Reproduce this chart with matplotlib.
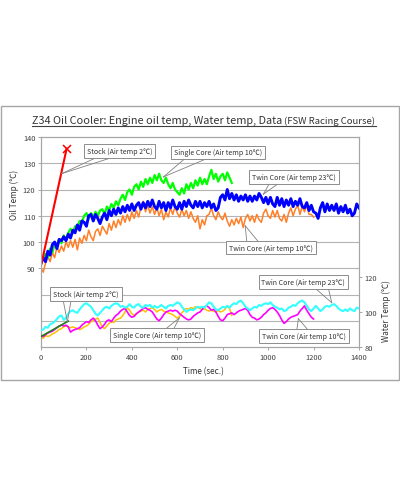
import numpy as np
import matplotlib
matplotlib.use('Agg')
import matplotlib.pyplot as plt
from matplotlib.lines import Line2D
from matplotlib.patches import Rectangle

FONT = ['Noto Sans CJK JP', 'DejaVu Sans']
plt.rcParams['font.family'] = FONT

# ---------------- data ----------------
STEP = 10  # seconds between logged samples

oil_twin23 = [
    92.0, 94.0, 92.5, 96.5, 95.0, 99.0, 100.0, 97.5, 101.0, 100.5,
    102.0, 100.5, 103.0, 101.5, 104.5, 103.5, 106.5, 104.5, 108.0, 107.5,
    106.0, 110.0, 110.5, 108.0, 110.5, 109.0, 107.0, 109.5, 111.0, 108.5,
    112.0, 110.0, 112.5, 110.5, 113.0, 111.0, 113.5, 111.5, 114.0, 112.0,
    114.5, 112.0, 114.0, 115.0, 112.5, 115.0, 113.0, 115.5, 113.5, 116.0,
    113.5, 112.5, 115.5, 113.0, 115.0, 112.0, 115.0, 113.0, 116.0, 113.5,
    112.5, 115.0, 112.5, 115.5, 113.5, 116.0, 114.0, 113.0, 115.5, 113.5,
    115.5, 113.0, 115.0, 113.5, 115.5, 113.0, 114.5, 112.0, 113.0, 117.0,
    118.0, 116.0, 120.0, 116.5, 118.5, 116.0, 118.0, 115.5, 117.5, 116.0,
    118.0, 115.5, 117.5, 115.5, 117.5, 116.0, 118.5, 117.0, 115.0, 117.0,
    114.5, 117.0, 114.5, 113.5, 117.0, 114.0, 116.5, 113.5, 116.0, 114.0,
    116.5, 113.5, 115.5, 114.0, 116.5, 113.5, 113.0, 115.0, 112.0, 114.0,
    111.5, 111.0, 109.0, 113.0, 115.0, 111.5, 114.5, 112.0, 114.0, 112.0,
    114.5, 111.0, 113.5, 111.5, 114.0, 111.0, 112.5, 110.0, 111.0, 114.5,
    113.0]

oil_single10 = [
    92.0, 94.0, 95.5, 94.0, 97.5, 96.0, 99.0, 98.5, 101.0, 99.5,
    102.5, 101.0, 103.5, 105.0, 103.5, 106.0, 105.5, 108.0, 107.5, 110.0,
    111.0, 109.0, 111.0, 109.5, 111.5, 110.0, 112.0, 112.5, 110.5, 113.5,
    112.0, 114.5, 113.0, 115.5, 114.0, 116.5, 118.0, 116.0, 119.0, 120.0,
    118.0, 121.0, 122.0, 120.0, 123.0, 121.0, 124.0, 122.0, 124.5, 122.5,
    125.5, 123.5, 126.0, 123.5, 122.5, 124.5, 122.0, 120.5, 122.5, 120.0,
    119.0, 118.0, 120.5, 118.5, 122.0, 120.0, 122.5, 120.5, 123.5, 121.5,
    124.5, 122.0, 124.0, 122.0, 125.0, 127.5, 124.0, 126.0, 123.0, 125.0,
    126.0, 123.5, 126.5, 124.5, 122.5]

oil_twin10 = [
    90.0, 88.5, 92.0, 94.5, 92.5, 96.0, 94.0, 98.0, 96.0, 98.5,
    96.5, 100.0, 98.0, 100.5, 98.0, 101.0, 97.0, 101.5, 99.5, 102.5,
    100.5, 104.5, 102.0, 100.5, 104.0, 105.0, 102.5, 106.0, 104.5, 103.0,
    107.0, 104.5, 108.0, 105.5, 108.5, 106.5, 110.0, 107.5, 110.5, 108.0,
    111.5, 109.0, 112.0, 109.5, 113.5, 115.5, 111.5, 114.0, 111.0, 113.5,
    110.5, 113.0, 110.0, 112.5, 108.5, 111.5, 109.5, 113.0, 110.5, 113.5,
    111.0, 109.5, 112.5, 110.0, 112.0, 109.0, 111.5, 109.0, 107.5, 110.0,
    105.0, 108.5, 106.5, 110.0, 110.5, 113.0, 110.0, 108.5, 111.5, 109.5,
    108.5, 111.0, 108.0, 106.0, 108.5, 106.5, 109.0, 107.0, 109.5, 105.5,
    109.0, 110.5, 108.0, 110.0, 107.5, 110.5, 108.5, 107.5, 111.0, 112.5,
    110.0, 109.0, 112.0, 109.5, 112.0, 109.0, 108.0, 110.5, 107.5, 111.0,
    113.0, 110.0, 112.5, 114.0, 110.5, 113.5, 111.5, 114.0, 110.5, 110.5,
    109.5]

water_twin23 = [
    89.5, 90.0, 91.5, 91.0, 93.0, 93.5, 94.5, 96.0, 97.5, 98.0,
    95.5, 96.5, 99.0, 100.5, 101.0, 100.0, 99.5, 101.5, 103.0, 104.5,
    105.0, 104.0, 103.0, 101.0, 99.0, 98.0, 99.5, 101.0, 102.5, 103.0,
    102.0, 103.5, 104.5, 105.0, 104.5, 103.0, 103.5, 102.5, 103.0, 104.5,
    103.0, 102.5, 104.0, 104.5, 103.0, 102.5, 104.0, 103.5, 104.0, 102.5,
    103.5, 102.5, 103.0, 104.0, 103.0, 102.0, 103.5, 104.0, 103.5, 104.5,
    105.5, 105.0, 103.0, 101.5, 100.0, 101.0, 101.5, 101.0, 102.0, 103.0,
    102.5, 103.0, 102.5, 104.0, 105.5, 105.0, 103.0, 101.5, 101.0, 102.0,
    103.0, 102.5, 103.5, 102.5, 104.0, 105.0, 104.5, 106.0, 106.5, 105.0,
    103.0, 102.0, 101.0, 102.0, 103.0, 102.5, 104.0, 103.5, 104.5, 105.0,
    104.5, 105.5, 104.0, 103.0, 102.5, 101.5, 102.0, 100.5, 101.0, 102.5,
    103.0, 104.0, 103.5, 105.0, 106.0, 106.5, 105.5, 103.5, 101.5, 100.5,
    102.0, 103.5, 102.0, 100.5, 101.5, 103.0, 103.5, 103.0, 104.0, 104.5,
    103.5, 102.0, 101.0, 100.5, 101.5, 100.5, 102.0, 101.0, 100.5, 102.5,
    102.0]

water_single10 = [
    85.5, 85.0, 86.5, 86.0, 86.5, 87.5, 88.0, 89.0, 90.0, 90.5,
    91.5, 92.0, 91.5, 91.0, 91.5, 91.0, 90.5, 90.0, 90.5, 91.5,
    92.0, 93.0, 94.5, 95.0, 96.0, 96.5, 94.0, 91.5, 90.5, 92.0,
    93.5, 94.5, 94.0, 95.5, 96.0, 96.5, 98.0, 100.0, 102.5, 101.0,
    99.0, 98.0, 99.0, 100.0, 100.5, 101.0, 100.0, 101.5, 102.0, 102.5,
    101.5, 100.0, 101.0, 101.5, 100.5, 100.0, 99.5, 99.0, 98.5, 97.5,
    96.5, 97.5, 99.5, 101.0, 102.0, 101.5, 102.5, 102.0, 103.0, 102.5,
    102.0, 101.5, 102.0, 101.0, 100.5, 101.0, 100.5, 100.0, 101.0, 100.0,
    100.5, 101.5, 103.5, 102.0, 98.0]

water_twin10 = [
    86.5, 86.0, 87.0, 88.0, 88.5, 89.0, 90.0, 91.0, 92.0, 92.5,
    92.0, 92.5, 91.5, 88.5, 89.5, 90.0, 90.5, 91.0, 92.5, 93.5,
    94.5, 94.0, 95.5, 96.5, 95.0, 92.5, 90.5, 91.5, 93.0, 95.0,
    95.5, 94.5, 96.5, 98.0, 99.0, 100.5, 101.5, 102.0, 100.0, 98.0,
    97.0, 97.5, 99.0, 100.0, 101.0, 102.0, 102.5, 101.5, 101.0, 100.0,
    98.0, 96.0, 95.0, 96.5, 98.5, 100.0, 100.5, 101.0, 100.5, 101.0,
    100.5, 99.0, 98.0, 97.0, 96.0, 95.5, 96.0, 97.5, 98.5, 99.5,
    100.0, 101.5, 103.0, 103.5, 102.5, 101.0, 101.5, 100.0, 97.5, 95.5,
    95.0, 96.5, 98.5, 99.0, 99.5, 98.5, 99.5, 100.5, 101.0, 101.5,
    102.0, 101.0, 98.5, 97.0, 96.5, 95.5, 96.0, 97.0, 98.5, 99.5,
    101.0, 102.0, 102.5, 101.5, 100.0, 98.0, 95.5, 93.5, 94.5, 96.0,
    97.0, 97.5, 98.0, 98.5, 100.5, 102.0, 103.5, 101.0, 99.0, 97.0,
    96.0]

stock_time = [0, 113]
oil_stock = [91.0, 135.6]
water_stock_time = [0, 120]
water_stock = [86.0, 94.8]

x_ticks = [0, 200, 400, 600, 800, 1000, 1200, 1400]
oil_ticks = [90, 100, 110, 120, 130, 140]
oil_grid = [70, 80, 90, 100, 110, 120, 130]
water_ticks = [80, 100, 120]

title_main = "Z34 Oil Cooler: Engine oil temp, Water temp, Data"
title_sub = "(FSW Racing Course)"
x_label = "Time (sec.)"
oil_label = "Oil Temp (℃)"
water_label = "Water Temp (℃)"

lbl_stock = "Stock (Air temp 2℃)"
lbl_single = "Single Core (Air temp 10℃)"
lbl_twin23 = "Twin Core (Air temp 23℃)"
lbl_twin10 = "Twin Core (Air temp 10℃)"

# callouts: (label, axis, text centre, base1, base2, tip)
callouts = [
    (lbl_stock,  'oil',   (346, 134.5), (247, 132.3), (317, 132.3), (90, 126.0)),
    (lbl_single, 'oil',   (781, 134.1), (634, 131.8), (731, 131.8), (539, 124.8)),
    (lbl_twin23, 'oil',   (1115, 124.8), (1008, 122.7), (1052, 122.7), (979, 118.2)),
    (lbl_twin10, 'oil',   (1013, 97.9), (906, 100.1), (957, 100.1), (899, 106.2)),
    (lbl_stock,  'water', (198, 110.5), (97, 107.2), (133, 107.2), (116, 94.3)),
    (lbl_single, 'water', (509, 86.6), (546, 90.0), (583, 90.0), (609, 96.6)),
    (lbl_twin23, 'water', (1155, 116.9), (1206, 113.7), (1265, 113.7), (1280, 105.3)),
    (lbl_twin10, 'water', (1159, 86.3), (1126, 89.5), (1177, 89.5), (1133, 96.2)),
]

# ---------------- figure ----------------
W, H = 400, 489
fig = plt.figure(figsize=(W / 100, H / 100), dpi=100)
fig.patch.set_facecolor('white')

def fx(px):
    return px / W

def fy(py):
    return 1 - py / H

# outer frame
fig.add_artist(Rectangle((fx(1), fy(381)), fx(398), 274 / H, transform=fig.transFigure,
                         fill=False, edgecolor='#a6a6a6', lw=1.0))

ax = fig.add_axes([fx(41), fy(348), 318 / W, 210 / H])
ax2 = ax.twinx()

GRID = '#b4b4b4'
SP = '#a6a6a6'
TXT = '#333333'

for v in oil_grid:
    ax.axhline(v, color=GRID, lw=0.8, zorder=0)

def t_of(vals):
    return np.arange(len(vals)) * STEP

# oil series
ax.plot(t_of(oil_twin10), oil_twin10, color='#ff7f27', lw=1.1, zorder=2)
ax.plot(t_of(oil_single10), oil_single10, color='#00ff00', lw=1.6, zorder=3)
ax.plot(t_of(oil_twin23), oil_twin23, color='#0000ff', lw=2.1, zorder=4)
ax.plot(stock_time, oil_stock, color='#ff0000', lw=1.5, zorder=5)
ax.plot(stock_time[-1:], oil_stock[-1:], marker='x', color='#ff0000', ms=6, mew=1.1,
        ls='none', zorder=5)

# water series
ax2.plot(t_of(water_single10), water_single10, color='#ffc000', lw=1.1, zorder=2)
ax2.plot(t_of(water_twin10), water_twin10, color='#ff00ff', lw=1.2, zorder=3)
ax2.plot(t_of(water_twin23), water_twin23, color='#33ffff', lw=1.5, zorder=4)
ax2.plot(water_stock_time, water_stock, color='#1a801a', lw=1.2, zorder=5)

ax.set_xlim(0, 1400)
ax.set_ylim(60, 140)
ax2.set_ylim(80, 200)
ax.set_xticks(x_ticks)
ax.set_yticks(oil_ticks)
ax2.set_yticks(water_ticks)

for a in (ax, ax2):
    a.tick_params(direction='out', length=2, width=0.7, color=SP, labelsize=5.4,
                  labelcolor='#404040', pad=2)
    for s in a.spines.values():
        s.set_color(SP)
        s.set_linewidth(0.8)
    a.set_facecolor('none')
ax.set_facecolor('white')
ax.set_zorder(1)
ax2.set_zorder(2)

# callouts
renderer = fig.canvas.get_renderer()
ann_texts = []
for lbl, which, c, b1, b2, tip in callouts:
    tr = ax.transData if which == 'oil' else ax2.transData
    for b in (b1, b2):
        ln = Line2D([b[0], tip[0]], [b[1], tip[1]], transform=tr, color='#808080', lw=0.6,
                    zorder=6)
        ax2.add_line(ln)
    t = ax2.text(c[0], c[1], lbl, transform=tr, ha='center', va='center', fontsize=5.5,
                 color=TXT, zorder=7,
                 bbox=dict(boxstyle='square,pad=0.42', fc='white', ec='#8c8c8c', lw=0.7))
    ann_texts.append(t)

def fit_width(t, target):
    w = t.get_window_extent(renderer).width
    t.set_fontsize(t.get_fontsize() * target / w)

# fit annotation font size on the longest label
ref = ax2.text(0, 0, lbl_single, fontsize=5.5, transform=fig.transFigure)
fit_width(ref, 89)
ann_fs = ref.get_fontsize()
ref.remove()
for t in ann_texts:
    t.set_fontsize(ann_fs)

# titles
tm = fig.text(fx(32), fy(123.5), title_main, ha='left', va='baseline', fontsize=8, color=TXT)
ts = fig.text(fx(375.5), fy(123.5), title_sub, ha='right', va='baseline', fontsize=7, color=TXT)
fit_width(tm, 250)
fit_width(ts, 91)
fig.add_artist(Line2D([fx(32), fx(376)], [fy(126.5), fy(126.5)], transform=fig.transFigure,
                      color='#404040', lw=0.8))

xl = fig.text(fx(203), fy(372), x_label, ha='center', va='center', fontsize=6.5, color=TXT)
fit_width(xl, 41)

yl = fig.text(fx(14.5), fy(195), oil_label, ha='center', va='center', fontsize=6.5, color=TXT)
fit_width(yl, 50)
yl.set_rotation(90)

wl = fig.text(fx(386.5), fy(311), water_label, ha='center', va='center', fontsize=6.5, color=TXT)
fit_width(wl, 62)
wl.set_rotation(90)

fig.savefig('out.png', dpi=100, facecolor='white')
